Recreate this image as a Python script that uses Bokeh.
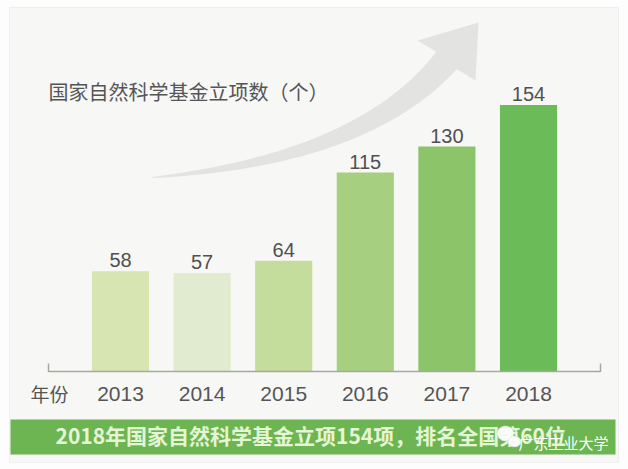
import numpy as np
from bokeh.plotting import figure
from bokeh.models import Range1d
from bokeh.core.properties import value
from bokeh.embed import file_html
from bokeh.resources import INLINE

# ---- data ----
years = [2013, 2014, 2015, 2016, 2017, 2018]
year_labels = ["2013", "2014", "2015", "2016", "2017", "2018"]
counts = [58, 57, 64, 115, 130, 154]
count_labels = ["58", "57", "64", "115", "130", "154"]
bar_colors = ["#d6e5b2", "#e1ebcf", "#c4dd9d", "#a6cf80", "#8cc46a", "#6bbb58"]
title_text = "国家自然科学基金立项数（个）"
axis_name = "年份"
banner_text = "2018年国家自然科学基金立项154项，排名全国第60位"
watermark = "广东工业大学"

W, H = 628, 469
BG = "#f7f7f5"

p = figure(width=W, height=H,
           x_range=Range1d(2011.5294, 2019.2255),
           y_range=Range1d(-56.65, 214.45),
           output_backend="svg", toolbar_location=None,
           x_axis_location=None, y_axis_location=None,
           min_border=0)
p.grid.visible = False
p.outline_line_color = None
p.background_fill_color = "#fdfdfd"
p.border_fill_color = "#fdfdfd"
p.extra_x_ranges = {"px": Range1d(0, W)}
p.extra_y_ranges = {"px": Range1d(H, 0)}

# ---- panel ----
p.quad(left=[9], right=[618], top=[7], bottom=[462], x_range_name="px", y_range_name="px",
       fill_color=BG, line_color="#efefed", line_width=1)

# ---- curved arrow (decoration, pixel coords) ----
P0 = np.array([152.0, 177.0])
P1 = np.array([362.8, 158.8])
P2 = np.array([446.0, 60.0])
t = np.linspace(0, 1, 80)
pts = ((1 - t) ** 2)[:, None] * P0 + (2 * (1 - t) * t)[:, None] * P1 + (t ** 2)[:, None] * P2
d = (2 * (1 - t))[:, None] * (P1 - P0) + (2 * t)[:, None] * (P2 - P1)
d = d / np.linalg.norm(d, axis=1)[:, None]
n = np.stack([d[:, 1], -d[:, 0]], axis=1)
w = 0.5 + 13.0 * t ** 0.9
upper = pts + w[:, None] * n
lower = pts - w[:, None] * n
barb_up = np.array([417.0, 40.0])
tip = np.array([478.0, 22.0])
barb_lo = np.array([475.0, 80.0])
poly = np.vstack([lower, barb_lo[None, :], tip[None, :], barb_up[None, :], upper[::-1]])
p.patch(poly[:, 0], poly[:, 1], x_range_name="px", y_range_name="px",
        fill_color="#e3e3e1", line_color=None)

# ---- title ----
p.text(x=[48], y=[91], text=[title_text], x_range_name="px", y_range_name="px",
       text_font=value("Noto Sans CJK SC"), text_font_size="20px",
       text_color="#555555", text_align="left", text_baseline="middle")

# ---- bars ----
p.vbar(x=years, top=counts, bottom=0, width=0.70, fill_color=bar_colors, line_color=None)
p.text(x=years, y=counts, text=count_labels, y_offset=-4,
       text_font=value("Liberation Sans"), text_font_size="20px",
       text_color="#505050", text_align="center", text_baseline="bottom")

# ---- axis bracket ----
p.line(x=[48, 48, 600, 600], y=[363, 371, 371, 363], x_range_name="px", y_range_name="px",
       line_color="#a2ab9e", line_width=1.5)

# ---- year labels ----
p.text(x=years, y=[393] * len(years), text=year_labels, y_range_name="px",
       text_font=value("Liberation Sans"), text_font_size="21px",
       text_color="#555555", text_align="center", text_baseline="middle")
p.text(x=[49], y=[393], text=[axis_name], x_range_name="px", y_range_name="px",
       text_font=value("Noto Sans CJK SC"), text_font_size="19px",
       text_color="#555555", text_align="center", text_baseline="middle")

# ---- bottom banner ----
p.quad(left=[10], right=[615], top=[419], bottom=[454], x_range_name="px", y_range_name="px",
       fill_color="#6cb552", line_color=None)
p.text(x=[55], y=[434], text=[banner_text], x_range_name="px", y_range_name="px",
       text_font=value("Noto Sans CJK SC"), text_font_size="21px", text_font_style="bold",
       text_color="#e4f6d4", text_align="left", text_baseline="middle")

# ---- watermark ----
p.ellipse(x=[505, 514], y=[433, 441], width=[17, 13], height=[15, 11],
          x_range_name="px", y_range_name="px",
          fill_color="white", fill_alpha=0.92, line_color="#cccccc", line_width=0.5)
p.text(x=[518], y=[442], text=[watermark], x_range_name="px", y_range_name="px",
       text_font=value("Noto Sans CJK SC"), text_font_size="15px",
       text_color="#ffffff", text_align="left", text_baseline="middle")

open("out.html", "w").write(file_html(p, INLINE))
